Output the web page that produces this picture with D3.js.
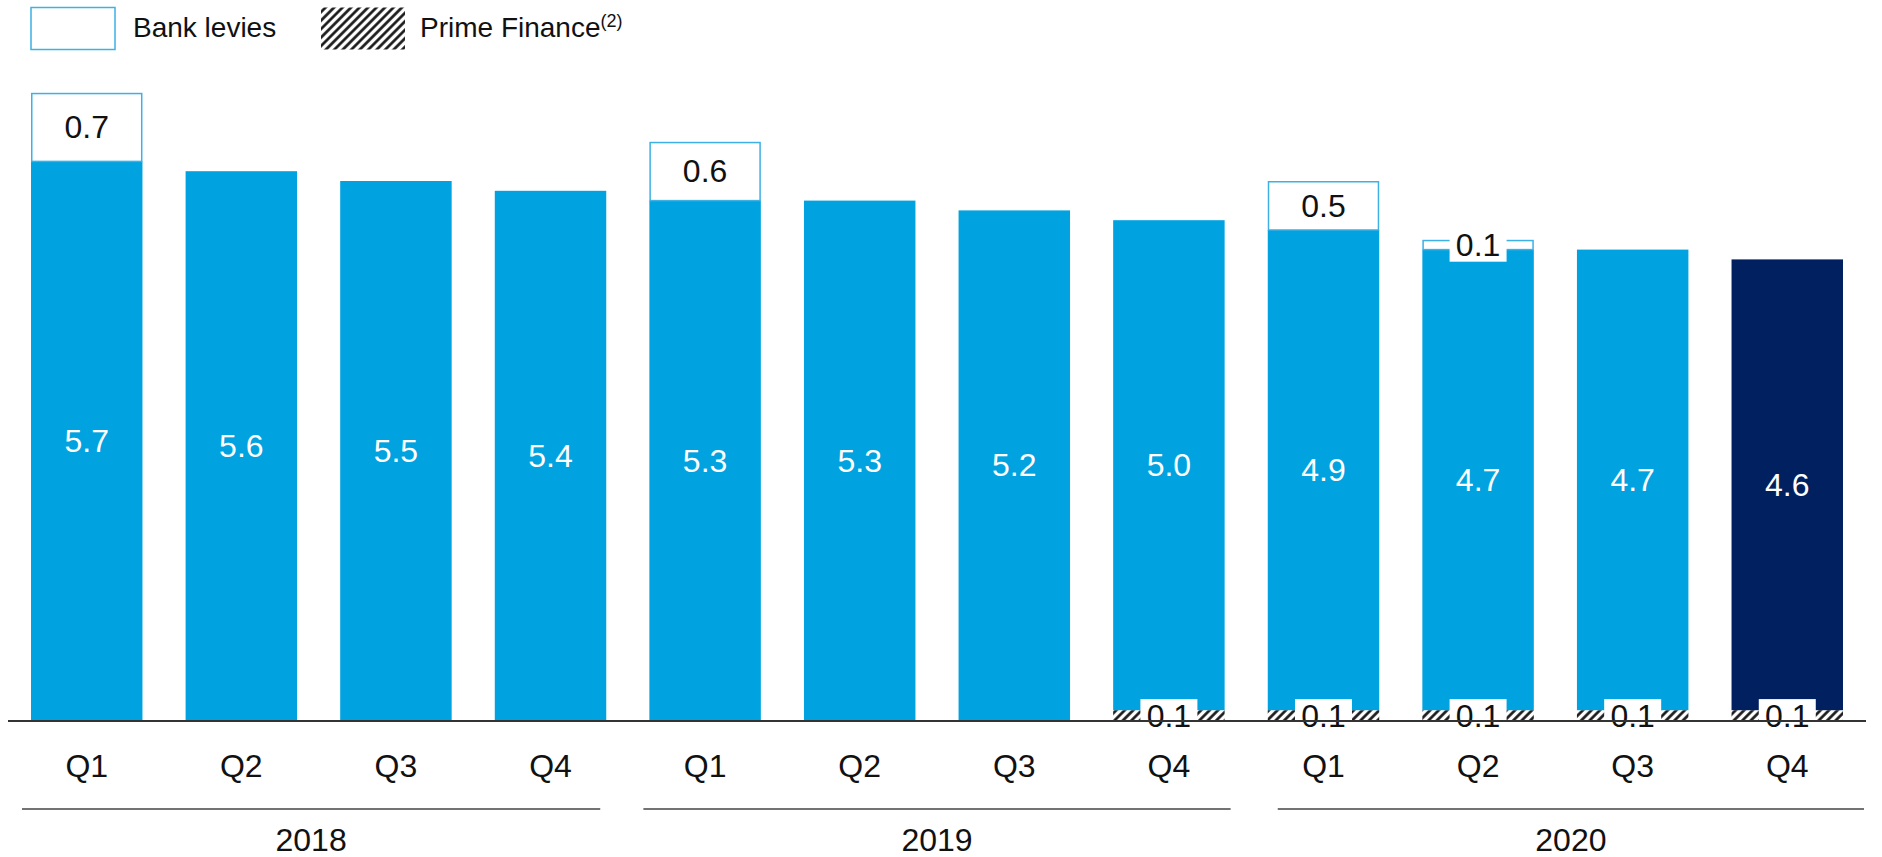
<!DOCTYPE html>
<html>
<head>
<meta charset="utf-8">
<script src="https://cdn.jsdelivr.net/npm/d3@7"></script>
<style>
  html, body { margin: 0; padding: 0; background: #fff; }
  svg { display: block; font-family: "Liberation Sans", Arial, sans-serif; }
</style>
</head>
<body>
<svg id="chart" width="1882" height="857"></svg>
<script>
// Quarterly figures, 2018 – 2020
const quarters = ["Q1", "Q2", "Q3", "Q4", "Q1", "Q2", "Q3", "Q4", "Q1", "Q2", "Q3", "Q4"];
const years = ["2018", "2019", "2020"];
const yearOfBar = ["2018", "2018", "2018", "2018", "2019", "2019", "2019", "2019", "2020", "2020", "2020", "2020"];
const coreValues = [5.7, 5.6, 5.5, 5.4, 5.3, 5.3, 5.2, 5.0, 4.9, 4.7, 4.7, 4.6];
const bankLevies = [0.7, 0, 0, 0, 0.6, 0, 0, 0, 0.5, 0.1, 0, 0];
const primeFinance = [0, 0, 0, 0, 0, 0, 0, 0.1, 0.1, 0.1, 0.1, 0.1];
const legendLabels = ["Bank levies", "Prime Finance"];

const COLOR_CORE = "#00a3e0";
const COLOR_LATEST = "#012060";
const COLOR_LEVY_STROKE = "#3db0e4";

// Year rules are nudged from the bar groups' outer edges: [left, right]
const yearRuleNudge = [[-9, -6], [-6, 6], [10, 21]];

const svg = d3.select("#chart");

const keys = quarters.map((q, i) => yearOfBar[i] + "-" + q);
const rows = keys.map((k, i) => ({
  key: k, quarter: quarters[i], year: yearOfBar[i],
  core: coreValues[i], levy: bankLevies[i], prime: primeFinance[i],
  latest: i === keys.length - 1
}));

const x = d3.scaleBand().domain(keys).range([31, 1843]).paddingInner(0.279).paddingOuter(0);
const y = d3.scaleLinear().domain([0, 6.4]).range([720, 720 - 98 * 6.4]);
const bw = x.bandwidth();

// Hatch pattern for the Prime Finance segment
const defs = svg.append("defs");
const pat = defs.append("pattern")
  .attr("id", "hatch").attr("patternUnits", "userSpaceOnUse")
  .attr("width", 6).attr("height", 6)
  .attr("patternTransform", "rotate(45)");
pat.append("rect").attr("width", 6).attr("height", 6).attr("fill", "#fff");
pat.append("line").attr("x1", 1.5).attr("y1", 0).attr("x2", 1.5).attr("y2", 6)
  .attr("stroke", "#111").attr("stroke-width", 2.6);

// Legend
const legend = svg.append("g");
legend.append("rect").attr("x", 31).attr("y", 7.5).attr("width", 84).attr("height", 42)
  .attr("fill", "#fff").attr("stroke", COLOR_LEVY_STROKE).attr("stroke-width", 1.5);
legend.append("text").attr("x", 133).attr("y", 37).attr("font-size", 28).attr("fill", "#111")
  .text(legendLabels[0]);
legend.append("rect").attr("x", 321).attr("y", 7.5).attr("width", 84).attr("height", 42)
  .attr("fill", "url(#hatch)");
const pfText = legend.append("text").attr("x", 420).attr("y", 37).attr("font-size", 28).attr("fill", "#111");
pfText.append("tspan").text(legendLabels[1]);
pfText.append("tspan").attr("font-size", 18).attr("dy", -10).text("(2)");

// Bars
const bars = svg.append("g").selectAll("g.bar").data(rows).join("g").attr("class", "bar");

// Prime Finance segment (bottom)
bars.filter(d => d.prime > 0).append("rect")
  .attr("x", d => x(d.key)).attr("width", bw)
  .attr("y", d => y(d.prime)).attr("height", d => y(0) - y(d.prime))
  .attr("fill", "url(#hatch)");

// Core segment
bars.append("rect")
  .attr("x", d => x(d.key)).attr("width", bw)
  .attr("y", d => y(d.prime + d.core)).attr("height", d => y(d.prime) - y(d.prime + d.core))
  .attr("fill", d => d.latest ? COLOR_LATEST : COLOR_CORE);

// Bank levies segment (top, outlined)
bars.filter(d => d.levy > 0).append("rect")
  .attr("x", d => x(d.key) + 0.75).attr("width", bw - 1.5)
  .attr("y", d => y(d.prime + d.core + d.levy) + 0.75)
  .attr("height", d => y(d.prime + d.core) - y(d.prime + d.core + d.levy) - 0.75)
  .attr("fill", "#fff").attr("stroke", COLOR_LEVY_STROKE).attr("stroke-width", 1.5);

// Baseline
svg.append("line").attr("x1", 8).attr("x2", 1866).attr("y1", 721).attr("y2", 721)
  .attr("stroke", "#333").attr("stroke-width", 2);

// Core value labels
bars.append("text")
  .attr("x", d => x(d.key) + bw / 2)
  .attr("y", d => (y(d.prime) + y(d.prime + d.core)) / 2)
  .attr("dy", "0.35em").attr("text-anchor", "middle")
  .attr("font-size", 32).attr("fill", "#fff")
  .text(d => d3.format(".1f")(d.core));

// Small-segment labels on a white tab
function smallLabel(sel, cy, val) {
  const g = sel.append("g");
  g.append("rect")
    .attr("x", d => x(d.key) + bw / 2 - 28.5).attr("width", 57)
    .attr("y", d => cy(d) - 17).attr("height", 34).attr("fill", "#fff");
  g.append("text")
    .attr("x", d => x(d.key) + bw / 2).attr("y", cy)
    .attr("dy", "0.35em").attr("text-anchor", "middle")
    .attr("font-size", 32).attr("fill", "#111")
    .text(d => d3.format(".1f")(val(d)));
}
smallLabel(bars.filter(d => d.prime > 0), d => (y(0) + y(d.prime)) / 2 + 1, d => d.prime);
// Large levy boxes hold their label inside; thin ones get a white tab
bars.filter(d => d.levy >= 0.3).append("text")
  .attr("x", d => x(d.key) + bw / 2)
  .attr("y", d => (y(d.prime + d.core) + y(d.prime + d.core + d.levy)) / 2)
  .attr("dy", "0.35em").attr("text-anchor", "middle")
  .attr("font-size", 32).attr("fill", "#111")
  .text(d => d3.format(".1f")(d.levy));
smallLabel(bars.filter(d => d.levy > 0 && d.levy < 0.3),
  d => (y(d.prime + d.core) + y(d.prime + d.core + d.levy)) / 2, d => d.levy);

// Quarter labels
svg.append("g").selectAll("text").data(rows).join("text")
  .attr("x", d => x(d.key) + bw / 2).attr("y", 777)
  .attr("text-anchor", "middle").attr("font-size", 32).attr("fill", "#111")
  .text(d => d.quarter);

// Year groups: separator rule and label
const groups = years.map((yr, i) => {
  const ks = rows.filter(r => r.year === yr).map(r => r.key);
  return {
    year: yr,
    x0: x(ks[0]) + yearRuleNudge[i][0],
    x1: x(ks[ks.length - 1]) + bw + yearRuleNudge[i][1]
  };
});
const yg = svg.append("g").selectAll("g").data(groups).join("g");
yg.append("line").attr("x1", d => d.x0).attr("x2", d => d.x1)
  .attr("y1", 809).attr("y2", 809).attr("stroke", "#444").attr("stroke-width", 1.5);
yg.append("text").attr("x", d => (d.x0 + d.x1) / 2).attr("y", 851)
  .attr("text-anchor", "middle").attr("font-size", 32).attr("fill", "#111")
  .text(d => d.year);
</script>
</body>
</html>
